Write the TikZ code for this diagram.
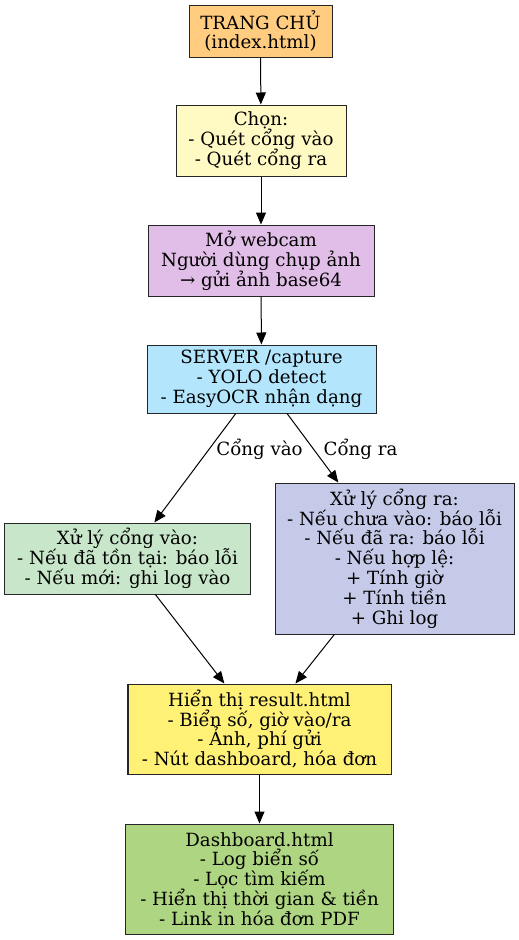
\documentclass[tikz,border=0pt]{standalone}
\usepackage{fontspec}
\setmainfont{DejaVu Serif}
\usetikzlibrary{arrows.meta}
\definecolor{cHome}{HTML}{FFCC80}
\definecolor{cChon}{HTML}{FFF9C4}
\definecolor{cCam}{HTML}{E1BEE7}
\definecolor{cSrv}{HTML}{B3E5FC}
\definecolor{cVao}{HTML}{C8E6C9}
\definecolor{cRa}{HTML}{C5CAE9}
\definecolor{cShow}{HTML}{FFF176}
\definecolor{cDash}{HTML}{AED581}
\newcommand\myboxfont{\fontsize{18.2bp}{19.8bp}\selectfont\lineskiplimit=-30bp\relax\lineskip=0bp\relax}
\tikzset{
  box/.style={draw=black!85, line width=1bp, inner sep=0pt, align=center,
    font=\myboxfont},
  conn/.style={draw=black, line width=1bp, -{Triangle[length=12bp,width=10bp]}},
  lbl/.style={font=\myboxfont, inner sep=0pt}
}
\begin{document}
\begin{tikzpicture}[x=1bp,y=-1bp]
\useasboundingbox (0,0) rectangle (519,940);
\node[box, fill=cHome, minimum width=143bp, minimum height=52bp] (home) at (260.5,31) {TRANG CHỦ\\(index.html)};
\node[box, fill=cChon, minimum width=170bp, minimum height=71bp] (chon) at (261,140.5) {Chọn:\\- Quét cổng vào\\- Quét cổng ra};
\node[box, fill=cCam, minimum width=226bp, minimum height=71bp] (cam) at (261,260.5) {Mở webcam\\Người dùng chụp ảnh\\→ gửi ảnh base64};
\node[box, fill=cSrv, minimum width=229bp, minimum height=68bp] (srv) at (261.5,379) {SERVER /capture\\- YOLO detect\\- EasyOCR nhận dạng};
\node[box, fill=cVao, minimum width=245bp, minimum height=71bp] (vao) at (127.5,558.5) {Xử lý cổng vào:\\- Nếu đã tồn tại: báo lỗi\\- Nếu mới: ghi log vào};
\node[box, fill=cRa, minimum width=239bp, minimum height=151bp] (ra) at (394.5,558.5) {Xử lý cổng ra:\\- Nếu chưa vào: báo lỗi\\- Nếu đã ra: báo lỗi\\- Nếu hợp lệ:\\+ Tính giờ\\+ Tính tiền\\+ Ghi log};
\node[box, fill=cShow, minimum width=263bp, minimum height=90bp] (show) at (259.5,729) {Hiển thị result.html\\- Biển số, giờ vào/ra\\- Ảnh, phí gửi\\- Nút dashboard, hóa đơn};
\node[box, fill=cDash, minimum width=267bp, minimum height=110bp] (dash) at (259.5,879) {Dashboard.html\\- Log biển số\\- Lọc tìm kiếm\\- Hiển thị thời gian \& tiền\\- Link in hóa đơn PDF};
\draw[conn] (home) -- (chon);
\draw[conn] (chon) -- (cam);
\draw[conn] (cam) -- (srv);
\draw[conn] (srv) -- (vao);
\draw[conn] (srv) -- (ra);
\draw[conn] (vao) -- (show);
\draw[conn] (ra) -- (show);
\draw[conn] (show) -- (dash);
\node[lbl] (lvao) at (259.5,449) {Cổng vào};
\node[lbl] (lra) at (360.5,449) {Cổng ra};
\end{tikzpicture}
\end{document}
